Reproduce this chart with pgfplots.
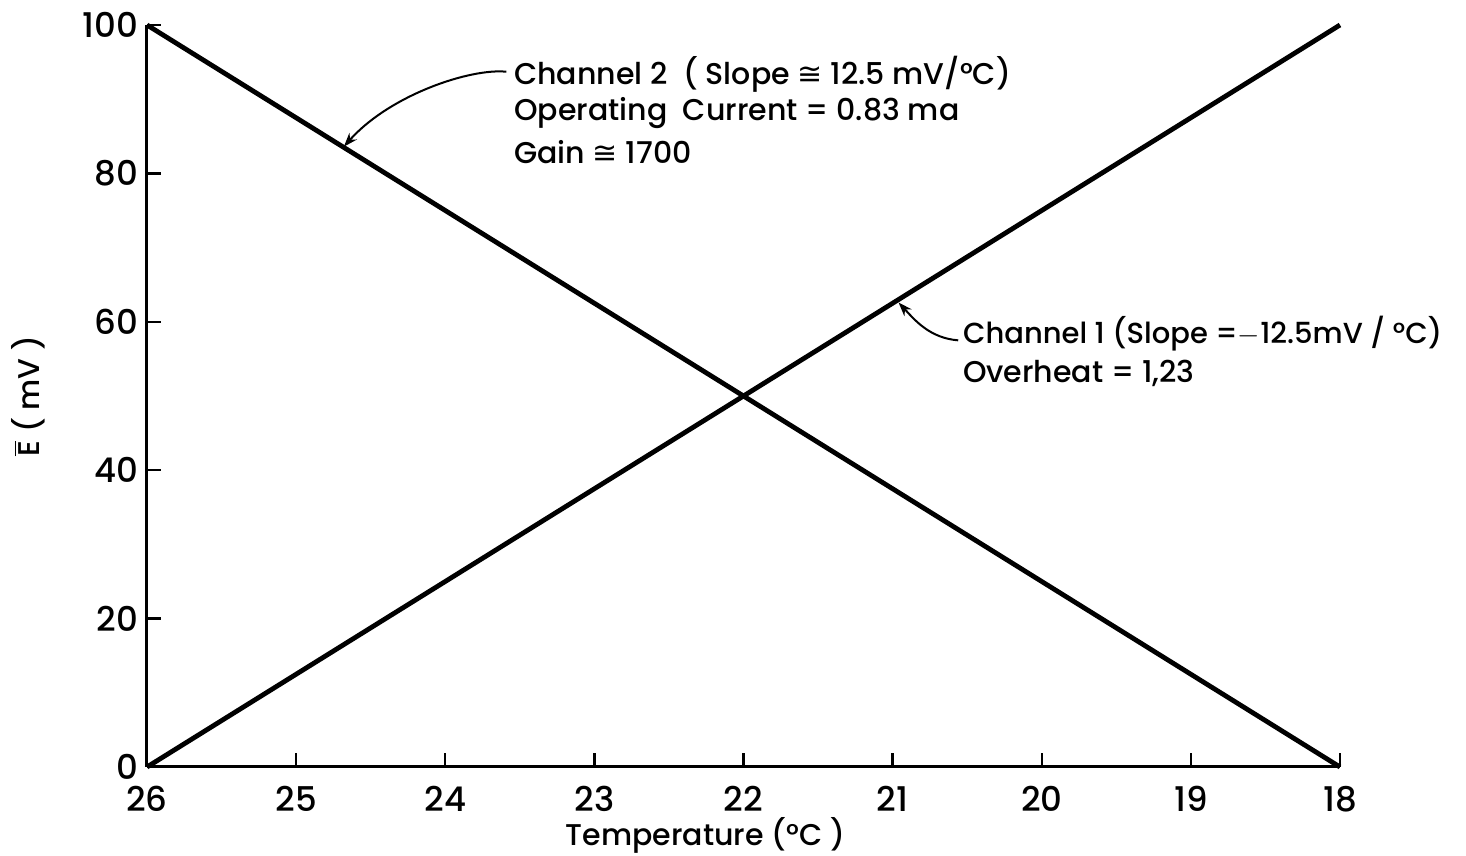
\documentclass[border=0pt]{standalone}
\usepackage{pgfplots}
\pgfplotsset{compat=1.18}
\usepackage{fontspec}
\setmainfont{Poppins}[UprightFont=* Medium]
\newfontfamily\sym{DejaVu Sans}
\usetikzlibrary{arrows.meta}
\begin{document}
\begin{tikzpicture}
\begin{axis}[
  scale only axis,
  width=596.5pt, height=371pt,
  xmin=18, xmax=26, ymin=0, ymax=100,
  x dir=reverse,
  axis x line=bottom, axis y line=left,
  axis line style={-, line width=1.5pt},
  xtick={18,19,20,21,22,23,24,25,26},
  ytick={0,20,40,60,80,100},
  tick align=inside,
  major tick length=7pt,
  tick style={line width=1.2pt, black},
  /pgf/number format/assume math mode=true,
  tick label style={font=\fontsize{17}{19}\selectfont},
  xticklabel style={yshift=-6pt},
  yticklabel style={xshift=-1pt},
  xlabel={Temperature (°C )},
  xlabel style={font=\fontsize{15}{17}\selectfont, yshift=4pt, xshift=-19pt},
  ylabel={$\overline{\mbox{E}}$ ( mV )},
  ylabel style={font=\fontsize{15}{17}\selectfont, yshift=12pt},
  clip=false,
]
\addplot[black, line width=2.4pt] coordinates {(26,100) (18,0)};
\addplot[black, line width=2.4pt] coordinates {(26,0) (18,100)};
\node[anchor=west, font=\fontsize{15}{17}\selectfont, inner sep=0pt] at (axis cs:23.54,93.4) {Channel 2 \ ( Slope {\sym ≅} 12.5 mV/°C)};
\node[anchor=west, font=\fontsize{15}{17}\selectfont, inner sep=0pt] at (axis cs:23.54,88.2) {Operating \ Current = 0.83 ma};
\node[anchor=west, font=\fontsize{15}{17}\selectfont, inner sep=0pt] at (axis cs:23.54,82.9) {Gain {\sym ≅} 1700};
\node[anchor=west, font=\fontsize{14.5}{17}\selectfont, inner sep=0pt] at (axis cs:20.53,58.4) {Channel 1 (Slope =$-$12.5mV / °C)};
\node[anchor=west, font=\fontsize{15}{17}\selectfont, inner sep=0pt] at (axis cs:20.53,53.1) {Overheat = 1,23};
\draw[-{Stealth[length=7pt,width=5pt]}, line width=1pt] (axis cs:23.59,93.7) .. controls (axis cs:23.83,94.2) and (axis cs:24.37,90.6) .. (axis cs:24.68,83.6);
\draw[-{Stealth[length=7pt,width=5pt]}, line width=1pt] (axis cs:20.56,57.5) .. controls (axis cs:20.75,57.8) and (axis cs:20.85,60.2) .. (axis cs:20.96,62.6);
\end{axis}
\pgfresetboundingbox
\path[use as bounding box] (-73.5pt,-44.5pt) rectangle (659.5pt,383.5pt);
\end{tikzpicture}
\end{document}
